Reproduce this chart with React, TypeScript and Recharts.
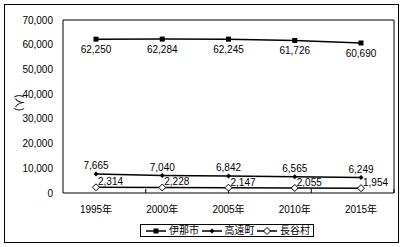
import { LineChart, Line, XAxis, YAxis, Legend, LabelList } from "recharts";

const YEARS = ["1995年", "2000年", "2005年", "2010年", "2015年"];
const INA = [62250, 62284, 62245, 61726, 60690];
const TAKATO = [7665, 7040, 6842, 6565, 6249];
const HASE = [2314, 2228, 2147, 2055, 1954];
const Y_TICKS = [0, 10000, 20000, 30000, 40000, 50000, 60000, 70000];
// category boundaries, used only for the small tick marks on the x axis
const BOUNDARY_TICKS = [1, 2, 3, 4];

const SERIES = [
  { key: "ina", name: "伊那市", shape: "square" },
  { key: "takato", name: "高遠町", shape: "dot" },
  { key: "hase", name: "長谷村", shape: "hollow" },
] as const;

const data = YEARS.map((year, i) => ({
  year,
  ina: INA[i],
  takato: TAKATO[i],
  hase: HASE[i],
}));

const FONT = "'Liberation Sans', 'Noto Sans CJK JP', sans-serif";
const TICK = { fontSize: 10, fill: "#000", fontFamily: FONT };

const fmt = (v: number) => Number(v).toLocaleString("en-US");

function Marker({ shape, cx, cy }: { shape: string; cx: number; cy: number }) {
  if (shape === "square") {
    return <rect x={cx - 2.5} y={cy - 2.5} width={5} height={5} fill="#000" />;
  }
  if (shape === "dot") {
    const s = 2.5;
    return <polygon points={`${cx},${cy - s} ${cx + s},${cy} ${cx},${cy + s} ${cx - s},${cy}`} fill="#000" />;
  }
  const s = 3.5;
  return (
    <polygon
      points={`${cx},${cy - s} ${cx + s},${cy} ${cx},${cy + s} ${cx - s},${cy}`}
      fill="#fff"
      stroke="#000"
      strokeWidth={1}
    />
  );
}

function dotFor(shape: string) {
  return (p: any) => (
    <g key={`${shape}-${p.index}`}>
      <Marker shape={shape} cx={p.cx} cy={p.cy} />
    </g>
  );
}

function labelFor(dx: number, dy: number, anchor: "start" | "middle") {
  return (p: any) => {
    const x = Number(p.x ?? p.viewBox?.x);
    const y = Number(p.y ?? p.viewBox?.y);
    return (
      <text x={x + dx} y={y + dy} textAnchor={anchor} fontSize={10} fontFamily={FONT} fill="#000">
        {fmt(p.value)}
      </text>
    );
  };
}

function LegendBox() {
  return (
    <div
      style={{
        display: "flex",
        alignItems: "center",
        justifyContent: "space-between",
        width: 174,
        border: "1px solid #000",
        background: "#fff",
        height: 13,
        padding: "0 3px 0 5px",
        fontSize: 10,
        lineHeight: "13px",
        fontFamily: FONT,
        color: "#000",
        whiteSpace: "nowrap",
        boxSizing: "border-box",
        overflow: "hidden",
      }}
    >
      {SERIES.map((s) => (
        <span key={s.key} style={{ display: "flex", alignItems: "center", gap: 3, flexShrink: 0 }}>
          <svg width={20} height={10} style={{ display: "block" }}>
            <line x1={0} y1={5} x2={20} y2={5} stroke="#000" strokeWidth={1.5} />
            <Marker shape={s.shape} cx={10} cy={5} />
          </svg>
          {s.name}
        </span>
      ))}
    </div>
  );
}

export default function App() {
  return (
    <div style={{ position: "absolute", left: 0, top: 0, width: 406, height: 247, background: "#fff" }}>
      <div
        style={{
          position: "absolute",
          left: 4,
          top: 4,
          width: 395,
          height: 239,
          border: "1px solid #000",
          boxSizing: "border-box",
        }}
      />
      <div style={{ position: "absolute", left: 0, top: 0 }}>
        <LineChart width={406} height={247} data={data} margin={{ top: 20, right: 12, left: 0, bottom: 10 }}>
          <XAxis
            dataKey="year"
            padding={{ left: 33, right: 33 }}
            tick={TICK}
            tickLine={false}
            tickSize={0}
            tickMargin={13}
            axisLine={{ stroke: "#000" }}
            height={31}
          />
          <XAxis
            xAxisId="bnd"
            type="number"
            domain={[0, 5]}
            ticks={BOUNDARY_TICKS}
            mirror
            axisLine={false}
            tickSize={4}
            tickLine={{ stroke: "#000" }}
            tickFormatter={() => ""}
          />
          <XAxis xAxisId="top" dataKey="year" orientation="top" mirror tick={false} tickLine={false} axisLine={{ stroke: "#000" }} />
          <YAxis
            domain={[0, 70000]}
            ticks={Y_TICKS}
            tickFormatter={fmt}
            tick={TICK}
            tickLine={false}
            tickSize={0}
            tickMargin={10}
            axisLine={{ stroke: "#000" }}
            width={63}
            label={{ value: "(人)", angle: 90, position: "insideLeft", dx: 15, dy: -12, style: { fontSize: 10, fill: "#000", fontFamily: FONT } }}
          />
          <YAxis
            yAxisId="in"
            domain={[0, 70000]}
            ticks={Y_TICKS}
            mirror
            axisLine={false}
            tickSize={3}
            tickLine={{ stroke: "#000" }}
            tickFormatter={() => ""}
          />
          <YAxis yAxisId="right" orientation="right" domain={[0, 70000]} ticks={Y_TICKS} mirror tick={false} tickLine={false} axisLine={{ stroke: "#000" }} />
          <Legend
            verticalAlign="bottom"
            content={() => <LegendBox />}
            wrapperStyle={{ left: 140, width: 174, bottom: 10 }}
          />
          <Line dataKey="ina" name="伊那市" stroke="#000" strokeWidth={1.5} dot={dotFor("square")} isAnimationActive={false}>
            <LabelList dataKey="ina" content={labelFor(0, 14, "middle")} />
          </Line>
          <Line dataKey="takato" name="高遠町" stroke="#000" strokeWidth={1.5} dot={dotFor("dot")} isAnimationActive={false}>
            <LabelList dataKey="takato" content={labelFor(0, -5, "middle")} />
          </Line>
          <Line dataKey="hase" name="長谷村" stroke="#000" strokeWidth={1.5} dot={dotFor("hollow")} isAnimationActive={false}>
            <LabelList dataKey="hase" content={labelFor(2, -2, "start")} />
          </Line>
        </LineChart>
      </div>
    </div>
  );
}
